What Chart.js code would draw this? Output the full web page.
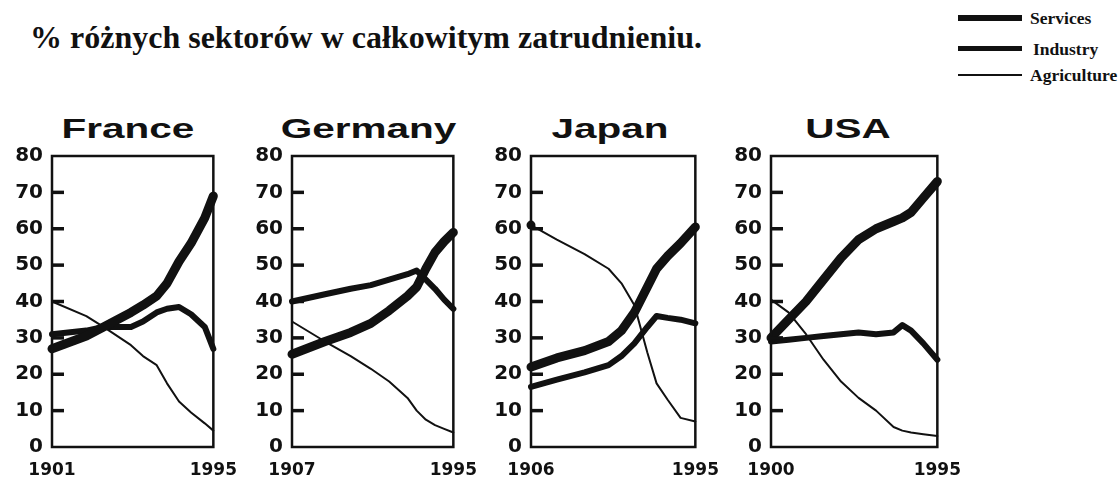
<!DOCTYPE html>
<html>
<head>
<meta charset="utf-8">
<script src="https://cdn.jsdelivr.net/npm/chart.js@4.4.1/dist/chart.umd.min.js"></script>
<style>
    body { margin: 0; background: #fff; width: 1119px; height: 477px; position: relative; overflow: hidden; }
    canvas { position: absolute; top: 100px; }
    .heading { position: absolute; left: 30px; top: 19px; font: bold 32px 'Liberation Serif', serif; color: #111; white-space: nowrap; }
    .country { position: absolute; top: 114px; height: 30px; line-height: 30px; text-align: center; font: bold 27px 'Liberation Sans', Arial, sans-serif; color: #111; transform: scaleX(1.5); }
    .key-line { position: absolute; left: 958px; width: 64px; background: #111; }
    .key-text { position: absolute; left: 1030px; font: bold 17.5px 'Liberation Serif', serif; color: #111; line-height: 20px; }
</style>
</head>
<body>
<div class="heading">% różnych sektorów w całkowitym zatrudnieniu.</div>

<div class="key-line" style="top:15px;height:6px"></div>
<div class="key-text" style="top:8px">Services</div>
<div class="key-line" style="top:46px;height:5px"></div>
<div class="key-text" style="top:39px;left:1033px">Industry</div>
<div class="key-line" style="top:74px;height:2px"></div>
<div class="key-text" style="top:65px">Agriculture</div>

<div class="country" style="left:46px;width:164px">France</div>
<div class="country" style="left:287px;width:163px">Germany</div>
<div class="country" style="left:527px;width:166px">Japan</div>
<div class="country" style="left:764px;width:168px">USA</div>

<canvas id="cv-france" width="250" height="377" style="left:0px"></canvas>
<canvas id="cv-germany" width="250" height="377" style="left:240px"></canvas>
<canvas id="cv-japan" width="253" height="377" style="left:479px"></canvas>
<canvas id="cv-usa" width="255" height="377" style="left:719px"></canvas>

<script>
const franceYears = [1901, 1921, 1931, 1947, 1954, 1962, 1968, 1975, 1982, 1990, 1995];
const franceServices = [27, 30.5, 33, 37, 39, 41.5, 45, 51, 56, 63, 69];
const franceIndustry = [31, 32, 33, 33, 34.5, 37, 38, 38.5, 36.5, 33, 27];
const franceAgriculture = [40, 36, 33, 28, 25, 22.5, 17.5, 12.5, 9.5, 6.5, 4.5];

const germanyYears = [1907, 1925, 1939, 1950, 1960, 1970, 1975, 1980, 1985, 1990, 1995];
const germanyServices = [25.5, 29, 31.5, 34, 37.5, 41.5, 44, 49, 53.5, 56.5, 59];
const germanyIndustry = [40, 42, 43.5, 44.5, 46, 47.5, 48.5, 46, 43.5, 40.5, 38];
const germanyAgriculture = [34.5, 29, 25, 21.5, 18, 13.5, 10, 7.5, 6, 5, 4];

const japanYears = [1906, 1920, 1935, 1948, 1955, 1962, 1969, 1974, 1980, 1987, 1995];
const japanServices = [22, 24.5, 26.5, 29, 32, 37, 44, 49, 52.5, 56, 60.5];
const japanIndustry = [16.5, 18.5, 20.5, 22.5, 25, 28.5, 33, 36, 35.5, 35, 34];
const japanAgriculture = [61, 57, 53, 49, 45, 39, 26, 17.5, 13, 8, 7];

const usaYears = [1900, 1910, 1920, 1930, 1940, 1950, 1960, 1970, 1975, 1980, 1987, 1995];
const usaServices = [30, 35, 40, 46, 52, 57, 60, 62, 63, 64.5, 68.5, 73];
const usaIndustry = [29, 29.5, 30, 30.5, 31, 31.5, 31, 31.5, 33.5, 32, 28.5, 24];
const usaAgriculture = [40.5, 37, 31, 24, 18, 13.5, 10, 5.5, 4.5, 4, 3.5, 3];

const yTicks = [0, 10, 20, 30, 40, 50, 60, 70, 80];
const lastYear = 1995;

const ink = '#111';

// box round the plot area, plus short tick marks pointing into it
const frameBox = {
    id: 'frameBox',
    afterDraw(chart) {
        const a = chart.chartArea;
        const ctx = chart.ctx;
        const yScale = chart.scales.y;
        ctx.save();
        ctx.strokeStyle = ink;
        ctx.lineWidth = 2.5;
        ctx.strokeRect(a.left, a.top, a.right - a.left, a.bottom - a.top);
        ctx.fillStyle = ink;
        for (let i = 1; i < yTicks.length - 1; i++) {
            const py = yScale.getPixelForValue(yTicks[i]);
            ctx.fillRect(a.left, py - 1.75, 12, 3.5);
        }
        ctx.restore();
    }
};

function points(years, values) {
    return years.map((y, i) => ({ x: y, y: values[i] }));
}

function makePanel(id, years, services, industry, agriculture, startDot) {
    return new Chart(document.getElementById(id), {
        type: 'line',
        data: {
            datasets: [{
                label: 'Services',
                data: points(years, services),
                borderColor: ink,
                borderWidth: 9,
                pointRadius: 0
            }, {
                label: 'Industry',
                data: points(years, industry),
                borderColor: ink,
                borderWidth: 6,
                pointRadius: 0
            }, {
                label: 'Agriculture',
                data: points(years, agriculture),
                borderColor: ink,
                borderWidth: 2,
                backgroundColor: ink,
                pointBorderWidth: 0,
                pointRadius: c => (startDot && c.dataIndex === 0 ? 4.5 : 0)
            }]
        },
        options: {
            responsive: false,
            animation: false,
            clip: false,
            layout: { padding: { top: 56, right: 35, left: 0, bottom: 0 } },
            plugins: { legend: { display: false }, tooltip: { enabled: false } },
            elements: { line: { borderJoinStyle: 'round', borderCapStyle: 'round', tension: 0 } },
            scales: {
                x: {
                    type: 'linear',
                    min: years[0],
                    max: lastYear,
                    afterBuildTicks: axis => { axis.ticks = [{ value: years[0] }, { value: lastYear }]; },
                    afterFit: axis => { axis.height = 30; },
                    border: { display: false },
                    grid: { display: false, drawTicks: false },
                    ticks: {
                        padding: 13,
                        color: ink,
                        maxRotation: 0,
                        autoSkip: false,
                        font: { family: 'DejaVu Sans', weight: 'bold', size: 17 },
                        callback: v => String(v)
                    }
                },
                y: {
                    min: 0,
                    max: 80,
                    afterBuildTicks: axis => { axis.ticks = yTicks.map(v => ({ value: v })); },
                    afterFit: axis => { axis.width = 52; },
                    border: { display: false },
                    grid: { display: false, drawTicks: false },
                    ticks: {
                        padding: 9,
                        color: ink,
                        autoSkip: false,
                        font: { family: 'DejaVu Sans', weight: 'bold', size: 20 }
                    }
                }
            }
        },
        plugins: [frameBox]
    });
}

makePanel('cv-france', franceYears, franceServices, franceIndustry, franceAgriculture, false);
makePanel('cv-germany', germanyYears, germanyServices, germanyIndustry, germanyAgriculture, false);
makePanel('cv-japan', japanYears, japanServices, japanIndustry, japanAgriculture, true);
makePanel('cv-usa', usaYears, usaServices, usaIndustry, usaAgriculture, false);
</script>
</body>
</html>
